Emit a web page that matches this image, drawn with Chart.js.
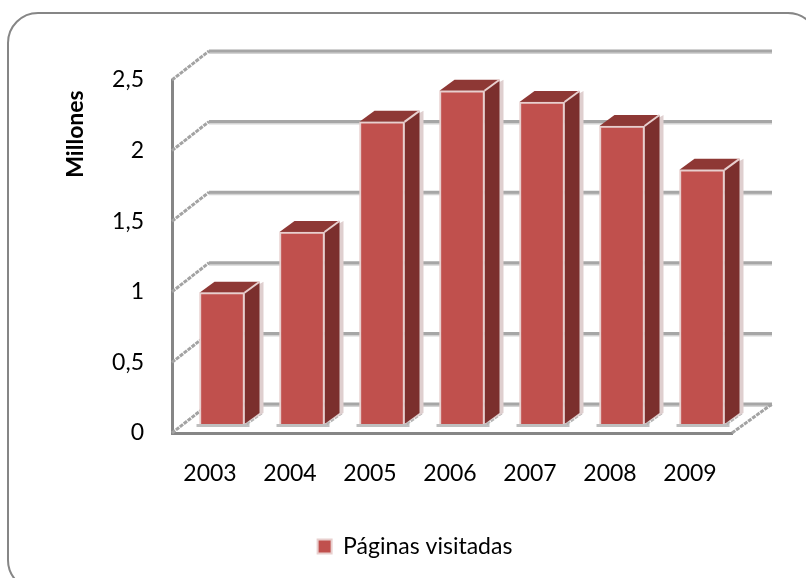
<!DOCTYPE html>
<html>
<head>
<meta charset="utf-8">
<style>
    html, body { margin: 0; padding: 0; background: #fff; }
    #wrap { width: 806px; height: 578px; position: relative; overflow: hidden; }
</style>
<script src="https://cdn.jsdelivr.net/npm/chart.js@4/dist/chart.umd.min.js"></script>
</head>
<body>
<div id="wrap"><canvas id="chart" width="806" height="578"></canvas></div>
<script>
const years = ["2003", "2004", "2005", "2006", "2007", "2008", "2009"];
const pageViews = [0.93, 1.36, 2.14, 2.36, 2.28, 2.11, 1.8];
const yTickLabels = ["0", "0,5", "1", "1,5", "2", "2,5"];
const seriesName = "Páginas visitadas";
const yTitle = "Millones";

const fontFamily = "Lato, 'Open Sans', sans-serif";

// Fake 3D: how far the back wall and the bars sit from the front axes
const WALL_DX = 37, WALL_DY = -29;
const BAR_DX = 10, BAR_DY = -9;
const SIDE_DX = 15, SIDE_DY = -11;

function poly(ctx, pts, fill) {
    ctx.beginPath();
    pts.forEach((p, i) => (i ? ctx.lineTo(p[0], p[1]) : ctx.moveTo(p[0], p[1])));
    ctx.closePath();
    ctx.fillStyle = fill;
    ctx.fill();
}

function line(ctx, x1, y1, x2, y2, color, width, dash) {
    ctx.beginPath();
    ctx.setLineDash(dash || []);
    ctx.moveTo(x1, y1);
    ctx.lineTo(x2, y2);
    ctx.strokeStyle = color;
    ctx.lineWidth = width;
    ctx.stroke();
    ctx.setLineDash([]);
}

const frame3d = {
    id: "frame3d",
    beforeDraw(chart) {
        const ctx = chart.ctx;
        ctx.save();
        // Rounded card, right and bottom edges run off the picture
        ctx.beginPath();
        ctx.roundRect(8, 13, 810, 577, 30);
        ctx.strokeStyle = "#868686";
        ctx.lineWidth = 2;
        ctx.stroke();
        ctx.restore();
    },
    beforeDatasetsDraw(chart) {
        const ctx = chart.ctx;
        const { left, right } = chart.chartArea;
        const y = chart.scales.y;
        ctx.save();
        yTickLabels.forEach((_, i) => {
            const py = y.getPixelForValue(i * 0.5);
            line(ctx, left + WALL_DX, py + WALL_DY + 1.5, right + 40, py + WALL_DY + 1.5, "#d4d4d4", 3);
            line(ctx, left + WALL_DX, py + WALL_DY, right + 40, py + WALL_DY, "#a6a6a6", 3);
            line(ctx, left, py, left + WALL_DX, py + WALL_DY, "#a3a3a3", 3, [4, 1]);
        });
        const base = y.getPixelForValue(0);
        line(ctx, right, base, right + 40, base + WALL_DY, "#a3a3a3", 3, [4, 1]);
        ctx.restore();
    },
    beforeDatasetDraw(chart, args) {
        const ctx = chart.ctx;
        ctx.save();
        ctx.translate(BAR_DX, BAR_DY);
        chart.getDatasetMeta(args.index).data.forEach((bar) => {
            const l = bar.x - bar.width / 2, r = bar.x + bar.width / 2;
            // floor shadow
            poly(ctx, [[l - 3, bar.base], [r + 5, bar.base], [r + 5, bar.base + 3], [l - 3, bar.base + 3]], "#bfbfbf");
            line(ctx, r + 2, bar.base, r + SIDE_DX + 2, bar.base + SIDE_DY, "#b5b5b5", 3, [4, 1]);
            // side shadow
            poly(ctx, [[r, bar.y], [r + SIDE_DX + 4, bar.y + SIDE_DY], [r + SIDE_DX + 4, bar.base + SIDE_DY], [r, bar.base]], "#dfcfcf");
            // side and top faces
            poly(ctx, [[r, bar.y], [r + SIDE_DX, bar.y + SIDE_DY], [r + SIDE_DX, bar.base + SIDE_DY], [r, bar.base]], "#7b2f2d");
            poly(ctx, [[l, bar.y], [l + SIDE_DX, bar.y + SIDE_DY], [r + SIDE_DX, bar.y + SIDE_DY], [r, bar.y]], "#8e3835");
            line(ctx, r, bar.y, r + SIDE_DX, bar.y + SIDE_DY, "#e8cfce", 2);
        });
    },
    afterDatasetDraw(chart) {
        chart.ctx.restore();
    },
    afterDraw(chart) {
        const ctx = chart.ctx;
        ctx.save();
        ctx.translate(76, 134);
        ctx.rotate(-Math.PI / 2);
        ctx.font = "bold 23px " + fontFamily;
        ctx.fillStyle = "#000";
        ctx.textAlign = "center";
        ctx.textBaseline = "middle";
        ctx.fillText(yTitle, 0, 0);
        ctx.restore();
    },
};

const config = {
    type: "bar",
    data: {
        labels: years,
        datasets: [
            {
                label: seriesName,
                data: pageViews,
                backgroundColor: "#c0504d",
                borderColor: "#e8cfce",
                borderWidth: 2,
                barThickness: 45,
                clip: false,
            },
        ],
    },
    options: {
        responsive: false,
        animation: false,
        layout: { padding: { left: 98, right: 74, top: 80, bottom: 10 } },
        scales: {
            x: {
                grid: { display: false, drawTicks: false },
                border: { color: "#868686", width: 3 },
                ticks: {
                    color: "#000",
                    font: { family: fontFamily, size: 23 },
                    padding: 27,
                    labelOffset: -2,
                    maxRotation: 0,
                },
                afterFit(scale) {
                    scale.height = 94;
                },
            },
            y: {
                min: 0,
                max: 2.5,
                grid: { display: false, drawTicks: false },
                border: { color: "#868686", width: 3 },
                ticks: {
                    stepSize: 0.5,
                    color: "#000",
                    font: { family: fontFamily, size: 23 },
                    padding: 28,
                    callback: (value, i) => yTickLabels[i],
                },
                afterFit(scale) {
                    scale.width = 74;
                },
            },
        },
        plugins: {
            tooltip: { enabled: false },
            legend: {
                position: "bottom",
                labels: {
                    color: "#000",
                    font: { family: fontFamily, size: 23 },
                    boxWidth: 14,
                    boxHeight: 14,
                    padding: 8,
                },
            },
        },
    },
    plugins: [frame3d],
};

new Chart(document.getElementById("chart"), config);
</script>
</body>
</html>
